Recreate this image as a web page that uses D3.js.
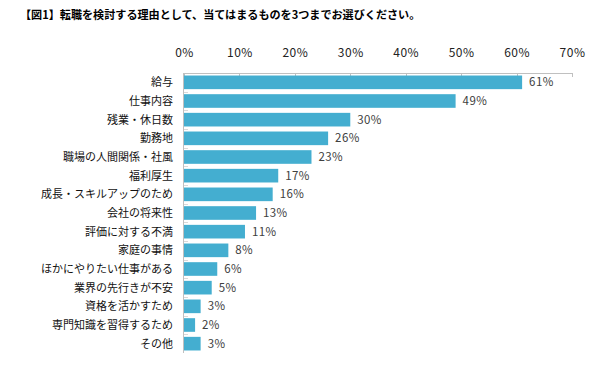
<!DOCTYPE html>
<html><head><meta charset="utf-8">
<script src="https://cdn.jsdelivr.net/npm/d3@7"></script>
<style>
html,body{margin:0;padding:0;background:#fff;}
svg{display:block;font-family:"Noto Sans CJK JP","Noto Sans",sans-serif;}
</style></head>
<body>
<svg id="c" width="607" height="366"></svg>
<script>
const title = "【図1】転職を検討する理由として、当てはまるものを3つまでお選びください。";
const categories = ["給与","仕事内容","残業・休日数","勤務地","職場の人間関係・社風","福利厚生","成長・スキルアップのため","会社の将来性","評価に対する不満","家庭の事情","ほかにやりたい仕事がある","業界の先行きが不安","資格を活かすため","専門知識を習得するため","その他"];
const values = [61,49,30,26,23,17,16,13,11,8,6,5,3,2,3];
const tickValues = [0,10,20,30,40,50,60,70];

const svg = d3.select("#c");
const pL = 184, pR = 572, pT = 73, pB = 353;
const x = d3.scaleLinear().domain([0,70]).range([pL,pR]);
const y = d3.scaleBand().domain(categories).range([pT,pB]).paddingInner(0.27).paddingOuter(0.135);

svg.append("text").attr("x",20).attr("y",19).attr("font-size",11.1).attr("font-weight","bold").attr("fill","#000").text(title);

// top axis
const xa = svg.append("g").attr("transform",`translate(0,${pT})`)
  .call(d3.axisTop(x).tickValues(tickValues).tickFormat(d=>d+"%").tickSize(0).tickPadding(16));
xa.select(".domain").remove();
xa.selectAll("text").attr("font-size",12).attr("letter-spacing","0.5px").attr("fill","#222").attr("font-family","'Noto Sans CJK JP',sans-serif");
svg.append("line").attr("x1",pL).attr("x2",pR).attr("y1",pT+0.5).attr("y2",pT+0.5).attr("stroke","#c0c0c0");
svg.selectAll(".xt").data(tickValues).join("line").attr("class","xt")
  .attr("x1",d=>Math.round(x(d))+0.5).attr("x2",d=>Math.round(x(d))+0.5).attr("y1",pT).attr("y2",pT+4).attr("stroke","#c0c0c0");

// left axis
svg.append("line").attr("x1",pL-0.5).attr("x2",pL-0.5).attr("y1",pT).attr("y2",pB).attr("stroke","#c0c0c0");
const step = y.step();
svg.selectAll(".yt").data(d3.range(1,categories.length)).join("line").attr("class","yt")
  .attr("x1",pL).attr("x2",pL+4).attr("y1",d=>Math.round(pT+d*step)+0.5).attr("y2",d=>Math.round(pT+d*step)+0.5).attr("stroke","#d9d9d9");

// bars
svg.selectAll(".bar").data(values).join("rect").attr("class","bar")
  .attr("x",pL).attr("y",(d,i)=>y(categories[i])).attr("width",d=>x(d)-pL).attr("height",y.bandwidth()).attr("fill","#44AED0");

// category labels
svg.selectAll(".cl").data(categories).join("text").attr("class","cl")
  .attr("x",173).attr("y",d=>y(d)+y.bandwidth()/2).attr("dy","0.36em").attr("text-anchor","end")
  .attr("font-size",11).attr("fill","#111").text(d=>d);

// value labels
svg.selectAll(".vl").data(values).join("text").attr("class","vl")
  .attr("x",d=>x(d)+7).attr("y",(d,i)=>y(categories[i])+y.bandwidth()/2).attr("dy","0.36em")
  .attr("font-size",11.5).attr("letter-spacing","0.4px").attr("fill","#404040").text(d=>d+"%");
</script>
</body></html>
